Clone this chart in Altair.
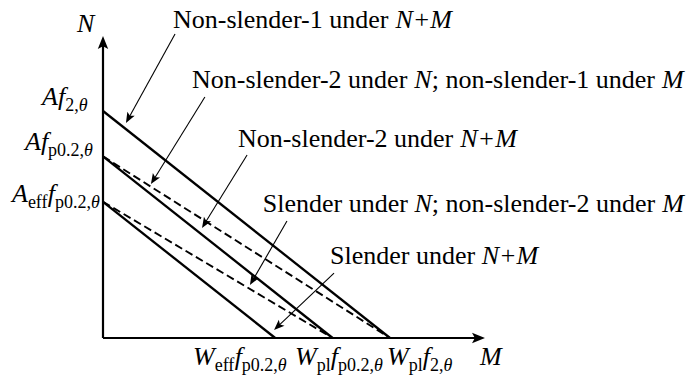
import math
import altair as alt
import pandas as pd

FONT = "Liberation Serif"
BIG = 26      # main text size (px)
SUB = 18      # subscript size (px)
SUB_DROP = 6  # subscript baseline shift (px)

# ---- frame: pixels per unit and where the origin sits on the canvas ----
W, H = 698, 381
PX_M, PX_N = 287.0, 227.0
OX, OY = 103.0, 338.0
X_DOM = [-OX / PX_M, (W - OX) / PX_M]
Y_DOM = [-(H - OY) / PX_N, OY / PX_N]

# ---- resistances (normalised) ----
axis_len_m = 1.331
axis_len_n = 1.330

# interaction lines: N intercept, M intercept, dashed flag
line_names = [
    "Non-slender-1 under N+M",
    "Non-slender-2 under N+M",
    "Slender under N+M",
    "Non-slender-2 under N; non-slender-1 under M",
    "Slender under N; non-slender-2 under M",
]
line_n0 = [1.0, 0.8, 0.6, 0.8, 0.6]
line_m0 = [1.0, 0.8, 0.6, 1.0, 0.8]
line_dashed = [False, False, False, True, True]

# annotation callouts: label start (M, N baseline), arrow tail, arrow tip
note_m = [0.244, 0.310, 0.470, 0.557, 0.791]
note_n = [1.366, 1.101, 0.841, 0.555, 0.326]
tail_m = [0.251, 0.355, 0.502, 0.641, 0.805]
tail_n = [1.339, 1.062, 0.806, 0.515, 0.286]
tip_m = [0.080, 0.167, 0.345, 0.512, 0.596]
tip_n = [0.947, 0.678, 0.485, 0.233, 0.035]

# ---- glyph advance widths (Times metrics, per 1000 em) ----
W_REG = {" ": 250, ";": 278, "-": 333, ".": 250, ",": 250, "+": 564,
         "0": 500, "1": 500, "2": 500, "S": 556, "N": 722,
         "d": 500, "e": 444, "f": 333, "l": 278, "n": 500, "o": 500,
         "p": 500, "r": 333, "s": 389, "u": 500}
W_ITA = {"N": 667, "M": 833, "+": 675, "A": 611, "f": 278, "W": 833,
         "\u03b8": 500}


def seg_w(text, italic, size):
    table = W_ITA if italic else W_REG
    return sum(table.get(c, 500) for c in text) * size / 1000.0


def rich(m0, n0, segments):
    """segments: (text, italic, subscript) -> rows placed left to right."""
    rows = []
    x = m0
    for text, italic, sub in segments:
        size = SUB if sub else BIG
        rows.append({"M": x, "N": n0 - (SUB_DROP / PX_N if sub else 0.0),
                     "txt": text, "ital": italic, "size": size})
        x += seg_w(text, italic, size) / PX_M
    return rows


text_rows = []
# callout labels
callout_segments = [
    [("Non-slender-1 under ", False, False), ("N+M", True, False)],
    [("Non-slender-2 under ", False, False), ("N", True, False),
     ("; non-slender-1 under ", False, False), ("M", True, False)],
    [("Non-slender-2 under ", False, False), ("N+M", True, False)],
    [("Slender under ", False, False), ("N", True, False),
     ("; non-slender-2 under ", False, False), ("M", True, False)],
    [("Slender under ", False, False), ("N+M", True, False)],
]
for segs, m0, n0 in zip(callout_segments, note_m, note_n):
    text_rows += rich(m0, n0, segs)

# axis names
text_rows += rich(-0.0906, 1.348, [("N", True, False)])
text_rows += rich(1.3136, -0.119, [("M", True, False)])

# N-axis capacity labels
text_rows += rich(-0.2125, 1.026, [("Af", True, False), ("2,", False, True),
                                   ("\u03b8", True, True)])
text_rows += rich(-0.2718, 0.828, [("Af", True, False), ("p0.2,", False, True),
                                   ("\u03b8", True, True)])
text_rows += rich(-0.3171, 0.599, [("A", True, False), ("eff", False, True),
                                   ("f", True, False), ("p0.2,", False, True),
                                   ("\u03b8", True, True)])
# M-axis capacity labels
text_rows += rich(0.3136, -0.119, [("W", True, False), ("eff", False, True),
                                   ("f", True, False), ("p0.2,", False, True),
                                   ("\u03b8", True, True)])
text_rows += rich(0.6690, -0.119, [("W", True, False), ("pl", False, True),
                                   ("f", True, False), ("p0.2,", False, True),
                                   ("\u03b8", True, True)])
text_rows += rich(0.9895, -0.119, [("W", True, False), ("pl", False, True),
                                   ("f", True, False), ("2,", False, True),
                                   ("\u03b8", True, True)])

texts = pd.DataFrame(text_rows)

# ---- interaction lines ----
lines = pd.DataFrame({
    "name": line_names,
    "M": [0.0] * 5, "N": line_n0,
    "M2": line_m0, "N2": [0.0] * 5,
    "dashed": line_dashed,
})


def pix_dir(m_from, n_from, m_to, n_to):
    dx = (m_to - m_from) * PX_M
    dy = -(n_to - n_from) * PX_N
    return dx, dy


def heading(dx, dy):
    return math.degrees(math.atan2(dx, -dy)) % 360.0


def shorten(m_from, n_from, m_to, n_to, px):
    dx, dy = pix_dir(m_from, n_from, m_to, n_to)
    L = math.hypot(dx, dy)
    return (m_to - dx / L * px / PX_M, n_to + dy / L * px / PX_N)


# ---- axes with arrowheads ----
axis_rows = []
head_rows = []
for (m1, n1) in [(axis_len_m, 0.0), (0.0, axis_len_n)]:
    me, ne = shorten(0.0, 0.0, m1, n1, 8)
    axis_rows.append({"M": 0.0, "N": 0.0, "M2": me, "N2": ne})
    dx, dy = pix_dir(0.0, 0.0, m1, n1)
    head_rows.append({"M": m1, "N": n1, "ang": heading(dx, dy), "kind": "axis"})
axes_df = pd.DataFrame(axis_rows)

call_rows = []
for i in range(5):
    me, ne = shorten(tail_m[i], tail_n[i], tip_m[i], tip_n[i], 6)
    call_rows.append({"M": tail_m[i], "N": tail_n[i], "M2": me, "N2": ne})
    dx, dy = pix_dir(tail_m[i], tail_n[i], tip_m[i], tip_n[i])
    head_rows.append({"M": tip_m[i], "N": tip_n[i], "ang": heading(dx, dy), "kind": "note"})
calls_df = pd.DataFrame(call_rows)
heads = pd.DataFrame(head_rows)

xs = alt.Scale(domain=X_DOM, nice=False, zero=False)
ys = alt.Scale(domain=Y_DOM, nice=False, zero=False)
X = alt.X("M:Q", scale=xs, axis=None)
Y = alt.Y("N:Q", scale=ys, axis=None)

ARROW = "M0,0 L0.4,1 L0,0.78 L-0.4,1 Z"

solid = alt.Chart(lines).transform_filter("!datum.dashed").mark_rule(
    color="black", strokeWidth=2.3
).encode(x=X, y=Y, x2="M2:Q", y2="N2:Q")

dashed = alt.Chart(lines).transform_filter("datum.dashed").mark_rule(
    color="black", strokeWidth=1.9, strokeDash=[8, 4]
).encode(x=X, y=Y, x2="M2:Q", y2="N2:Q")

axes = alt.Chart(axes_df).mark_rule(color="black", strokeWidth=2.2).encode(
    x=X, y=Y, x2="M2:Q", y2="N2:Q")

callouts = alt.Chart(calls_df).mark_rule(color="black", strokeWidth=1.1).encode(
    x=X, y=Y, x2="M2:Q", y2="N2:Q")

axis_heads = alt.Chart(heads).transform_filter("datum.kind == 'axis'").mark_point(
    shape=ARROW, filled=True, color="black", opacity=1, size=676, strokeWidth=0
).encode(x=X, y=Y, angle=alt.Angle("ang:Q", scale=None))

note_heads = alt.Chart(heads).transform_filter("datum.kind == 'note'").mark_point(
    shape=ARROW, filled=True, color="black", opacity=1, size=441, strokeWidth=0
).encode(x=X, y=Y, angle=alt.Angle("ang:Q", scale=None))

txt_reg = alt.Chart(texts).transform_filter("!datum.ital").mark_text(
    font=FONT, align="left", baseline="alphabetic", color="black"
).encode(x=X, y=Y, text="txt:N", size=alt.Size("size:Q", scale=None))

txt_ita = alt.Chart(texts).transform_filter("datum.ital").mark_text(
    font=FONT, fontStyle="italic", align="left", baseline="alphabetic", color="black"
).encode(x=X, y=Y, text="txt:N", size=alt.Size("size:Q", scale=None))

chart = alt.layer(
    solid, dashed, axes, callouts, axis_heads, note_heads, txt_reg, txt_ita
).properties(
    width=W, height=H, padding=0, autosize=alt.AutoSizeParams(type="none"),
    background="white"
).configure_view(stroke=None)

chart.save("out.html", embed_options={"renderer": "svg", "actions": False})
